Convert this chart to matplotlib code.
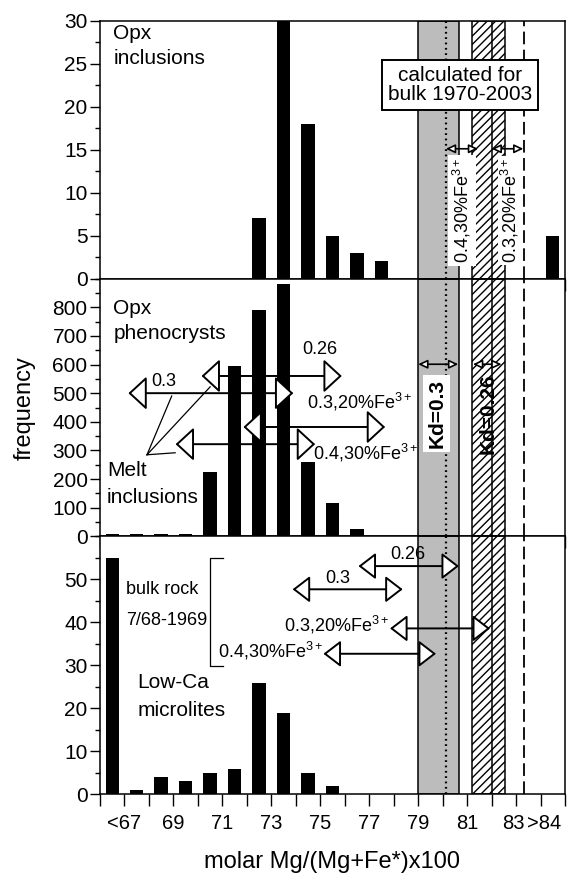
import numpy as np
import matplotlib
matplotlib.use("Agg")
import matplotlib.pyplot as plt
from matplotlib.ticker import MultipleLocator, FixedLocator
from matplotlib.transforms import ScaledTranslation

plt.rcParams['font.family'] = ['Liberation Sans', 'DejaVu Sans']
plt.rcParams['mathtext.fontset'] = 'custom'
plt.rcParams['mathtext.rm'] = 'Liberation Sans'
plt.rcParams['mathtext.it'] = 'Liberation Sans:italic'
plt.rcParams['mathtext.bf'] = 'Liberation Sans:bold'
plt.rcParams['hatch.linewidth'] = 1.0

# lower edge of each 1-unit Mg# bin (66 -> "<67", 84 -> ">84")
bins = np.arange(66, 85)
opx_incl = [0, 0, 0, 0, 0, 0, 7, 30, 18, 5, 3, 2, 0, 0, 0, 0, 0, 0, 5]
opx_pheno = [8, 8, 8, 8, 225, 595, 790, 880, 260, 115, 25, 0, 0, 0, 0, 0, 0, 0, 0]
lowca_micro = [55, 1, 4, 3, 5, 6, 26, 19, 5, 2, 0, 0, 0, 0, 0, 0, 0, 0, 0]

tick_pos = [67, 69, 71, 73, 75, 77, 79, 81, 83, 84]
tick_lab = ['<67', '69', '71', '73', '75', '77', '79', '81', '83', '>84']

# calculated equilibrium ranges for bulk 1970-2003
kd03_band = (79.0, 80.67)
kd026_band = (81.19, 82.55)
kd026_mid = 82.0
fe_04_30 = 80.13
fe_03_20 = 83.34

FE = 'Fe$^{3+}$'

# melt inclusion ranges in the phenocryst panel: label, y, from, to
mid_arrows = [('0.3', 500, 67.16, 73.9),
              ('0.26', 560, 70.15, 75.88),
              ('0.3,20%' + FE, 382, 71.86, 77.65),
              ('0.4,30%' + FE, 322, 69.09, 74.79)]
# bulk rock 7/68-1969 ranges in the microlite panel
bot_arrows = [('0.26', 53.1, 76.56, 80.67),
              ('0.3', 47.7, 73.87, 78.37),
              ('0.3,20%' + FE, 38.6, 77.85, 81.94),
              ('0.4,30%' + FE, 32.7, 75.13, 79.73)]


def dbl_arrow(ax, xa, xb, y, hl, hw, lw=1.4):
    ax.annotate('', xy=(xb, y), xytext=(xa, y),
                arrowprops=dict(arrowstyle='<|-|>,head_length=%g,head_width=%g' % (hl, hw),
                                fc='white', ec='black', lw=lw, shrinkA=0, shrinkB=0,
                                mutation_scale=1),
                zorder=6)


fig = plt.figure(figsize=(5.68, 8.73), dpi=100)
x0f, wf = 100 / 568, 465 / 568
h = (794.3 - 20.7) / 3 / 873
b0 = (873 - 794.3) / 873
ax_top = fig.add_axes([x0f, b0 + 2 * h, wf, h])
ax_mid = fig.add_axes([x0f, b0 + h, wf, h])
ax_bot = fig.add_axes([x0f, b0, wf, h])

panels = [(ax_top, opx_incl, 30, [0, 5, 10, 15, 20, 25, 30], 2.5),
          (ax_mid, opx_pheno, 900, [0, 100, 200, 300, 400, 500, 600, 700, 800], 50),
          (ax_bot, lowca_micro, 60, [0, 10, 20, 30, 40, 50], 5)]

for ax, counts, ymax, yticks, minor in panels:
    ax.bar(bins + 0.5, counts, width=0.55, color='black', zorder=3)
    ax.set_xlim(66, 85)
    ax.set_ylim(0, ymax)
    ax.yaxis.set_major_locator(FixedLocator(yticks))
    ax.yaxis.set_minor_locator(MultipleLocator(minor))
    ax.xaxis.set_major_locator(FixedLocator(tick_pos))
    ax.xaxis.set_minor_locator(MultipleLocator(1))
    ax.set_xticklabels(tick_lab)
    ax.tick_params(axis='x', which='both', direction='out', length=8.5, width=1,
                   labelsize=14.5, pad=6)
    ax.tick_params(axis='y', which='major', direction='out', length=7, width=1,
                   labelsize=15, pad=2)
    ax.tick_params(axis='y', which='minor', direction='out', length=3.5, width=1)
    for sp in ax.spines.values():
        sp.set_linewidth(1.1)
        sp.set_zorder(7)

    ax.axvspan(*kd03_band, facecolor='#bcbcbc', edgecolor='black', lw=1.1, zorder=1)
    ax.axvspan(*kd026_band, facecolor='white', edgecolor='black', hatch='////',
               lw=1.1, zorder=1)
    ax.axvline(kd026_mid, color='black', lw=1.1, zorder=2)
    ax.axvline(fe_04_30, color='black', lw=1.6, ls=(0, (0.8, 1.6)), zorder=2)
    ax.axvline(fe_03_20, color='black', lw=1.3, ls=(0, (7, 3)), zorder=2)

ax_top.tick_params(labelbottom=False)
ax_mid.tick_params(labelbottom=False)

# nudge the crowded last two labels apart
labels = ax_bot.get_xticklabels()
for lab, dx in [(labels[-2], -3), (labels[-1], 4)]:
    lab.set_transform(lab.get_transform() + ScaledTranslation(dx / 100, 0, fig.dpi_scale_trans))

# top panel: Opx inclusions
ax_top.text(66.54, 29.6, 'Opx\ninclusions', fontsize=15, va='top', ha='left',
            linespacing=1.4)
ax_top.text(80.71, 22.5, 'calculated for\nbulk 1970-2003', fontsize=15, ha='center',
            va='center', linespacing=1.0, zorder=8,
            bbox=dict(boxstyle='square,pad=0.28', fc='white', ec='black', lw=1.4))
dbl_arrow(ax_top, fe_04_30, 81.45, 15.1, 5.5, 2.6, lw=1.2)
dbl_arrow(ax_top, kd026_mid, 83.3, 15.1, 5.5, 2.6, lw=1.2)
ax_top.text(80.8, 7.9, '0.4,30%' + FE, rotation=90, fontsize=13, ha='center',
            va='center', zorder=8,
            bbox=dict(boxstyle='square,pad=0.15', fc='white', ec='none'))
ax_top.text(82.77, 7.9, '0.3,20%' + FE, rotation=90, fontsize=13, ha='center',
            va='center', zorder=8,
            bbox=dict(boxstyle='square,pad=0.1', fc='white', ec='none'))

# middle panel: Opx phenocrysts
ax_mid.text(66.54, 828, 'Opx\nphenocrysts', fontsize=15, va='top', ha='left',
            linespacing=1.4)
ax_mid.text(66.28, 262, 'Melt\ninclusions', fontsize=15, va='top', ha='left',
            linespacing=1.5)
for xe, ye in [(68.93, 490), (70.5, 522), (69.07, 292)]:
    ax_mid.plot([67.92, xe], [285, ye], color='black', lw=0.9, zorder=5)
for lab, y, xa, xb in mid_arrows:
    dbl_arrow(ax_mid, xa, xb, y, 11.5, 10.6)
ax_mid.text(68.6, 512, '0.3', fontsize=13, ha='center', va='bottom', zorder=8)
ax_mid.text(74.99, 654, '0.26', fontsize=13, ha='center', va='center', zorder=8)
ax_mid.text(74.45, 468, '0.3,20%' + FE, fontsize=13, ha='left', va='center', zorder=8)
ax_mid.text(74.72, 292, '0.4,30%' + FE, fontsize=13, ha='left', va='center', zorder=8)
dbl_arrow(ax_mid, kd03_band[0], 80.64, 601, 5.5, 2.6, lw=1.2)
dbl_arrow(ax_mid, 81.24, 82.41, 601, 5.5, 2.6, lw=1.2)
ax_mid.text(79.76, 428, 'Kd=0.3', rotation=90, fontsize=15, fontweight='bold',
            ha='center', va='center', zorder=8,
            bbox=dict(boxstyle='square,pad=0.2', fc='white', ec='none'))
ax_mid.text(81.87, 428, 'Kd=0.26', rotation=90, fontsize=15, fontweight='bold',
            ha='center', va='center', zorder=8)

# bottom panel: Low-Ca microlites
ax_bot.text(67.06, 47.7, 'bulk rock', fontsize=13, ha='left', va='center')
ax_bot.text(67.06, 40.4, '7/68-1969', fontsize=13, ha='left', va='center')
ax_bot.plot([71.01, 70.5, 70.5, 71.01], [55.06, 55.06, 29.9, 29.9], color='black',
            lw=0.9, zorder=5)
ax_bot.text(67.52, 26.0, 'Low-Ca', fontsize=15, ha='left', va='center')
ax_bot.text(67.52, 19.4, 'microlites', fontsize=15, ha='left', va='center')
for lab, y, xa, xb in bot_arrows:
    dbl_arrow(ax_bot, xa, xb, y, 10.8, 8.3)
ax_bot.text(78.59, 53.8, '0.26', fontsize=13, ha='center', va='bottom', zorder=8)
ax_bot.text(75.73, 48.3, '0.3', fontsize=13, ha='center', va='bottom', zorder=8)
ax_bot.text(77.8, 39.4, '0.3,20%' + FE, fontsize=13, ha='right', va='center', zorder=8)
ax_bot.text(75.1, 33.3, '0.4,30%' + FE, fontsize=13, ha='right', va='center', zorder=8)

fig.text(25 / 568, 1 - 408 / 873, 'frequency', rotation=90, fontsize=17,
         ha='center', va='center')
fig.text(332.5 / 568, 1 - 861.7 / 873, 'molar Mg/(Mg+Fe*)x100', fontsize=17,
         ha='center', va='center')

fig.savefig('out.png', dpi=100)
